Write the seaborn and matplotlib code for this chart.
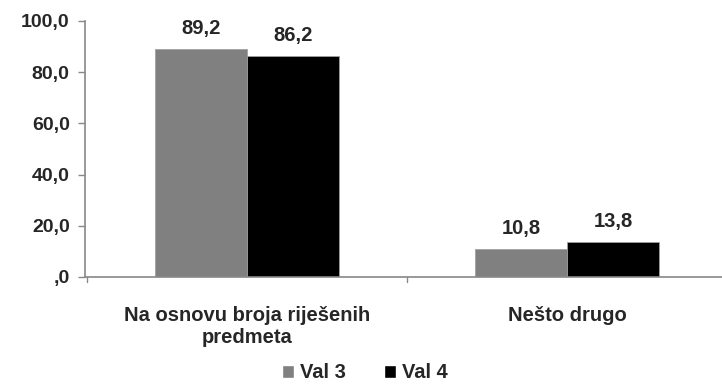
import pandas as pd
import matplotlib
matplotlib.use('Agg')
import matplotlib.pyplot as plt
import seaborn as sns

categories = ['Na osnovu broja riješenih\npredmeta', 'Nešto drugo']
series = ['Val 3', 'Val 4']
val3 = [89.2, 10.8]
val4 = [86.2, 13.8]
y_ticks = [0, 20, 40, 60, 80, 100]
y_tick_labels = [',0', '20,0', '40,0', '60,0', '80,0', '100,0']
colors = ['#808080', '#000000']

df = pd.DataFrame({
    'Category': categories * 2,
    'Series': [series[0]] * 2 + [series[1]] * 2,
    'Value': val3 + val4,
})

sns.set_style('white')
plt.rcParams['font.family'] = ['Liberation Sans', 'DejaVu Sans']
plt.rcParams['font.weight'] = 'bold'

fig = plt.figure(figsize=(7.22, 3.87), dpi=100)
ax = fig.add_axes([85 / 722, 1 - 277 / 387, 1 - 85 / 722, 256 / 387])

sns.barplot(data=df, x='Category', y='Value', hue='Series', palette=colors,
            width=0.575, edgecolor='#a0a0a0', linewidth=0.6, ax=ax, legend=False)

for cont in ax.containers:
    labels = [f'{v:.1f}'.replace('.', ',') for v in cont.datavalues]
    ax.bar_label(cont, labels=labels, padding=8, fontsize=14.5, fontweight='bold')

ax.set_xlim(-0.506, 1.484)
ax.set_ylim(0, 100)
ax.set_yticks(y_ticks)
ax.set_yticklabels(y_tick_labels, fontsize=14, fontweight='bold')
ax.set_xticks([0, 1])
ax.set_xticklabels(categories, fontsize=14.5, fontweight='bold', linespacing=1.2)
ax.tick_params(axis='x', length=0, pad=21)
ax.tick_params(axis='y', length=5, width=1, color='#888888', direction='out', pad=6, left=True)
for x in [-0.5, 0.5]:
    ax.plot([x, x], [0, -2], color='#888888', lw=1, clip_on=False, transform=ax.transData)
ax.set_xlabel('')
ax.set_ylabel('')

for side in ['top', 'right']:
    ax.spines[side].set_visible(False)
for side in ['left', 'bottom']:
    ax.spines[side].set_color('#888888')
    ax.spines[side].set_linewidth(1.2)

handles = [plt.Rectangle((0, 0), 1, 1, facecolor=c) for c in colors]
fig.legend(handles, series, loc='lower center', bbox_to_anchor=(0.505, -0.035), ncol=2,
           frameon=False, handlelength=0.6, handleheight=0.6,
           handletextpad=0.3, columnspacing=1.9, prop={'weight': 'bold', 'size': 14.5})

fig.savefig('out.png', dpi=100)
